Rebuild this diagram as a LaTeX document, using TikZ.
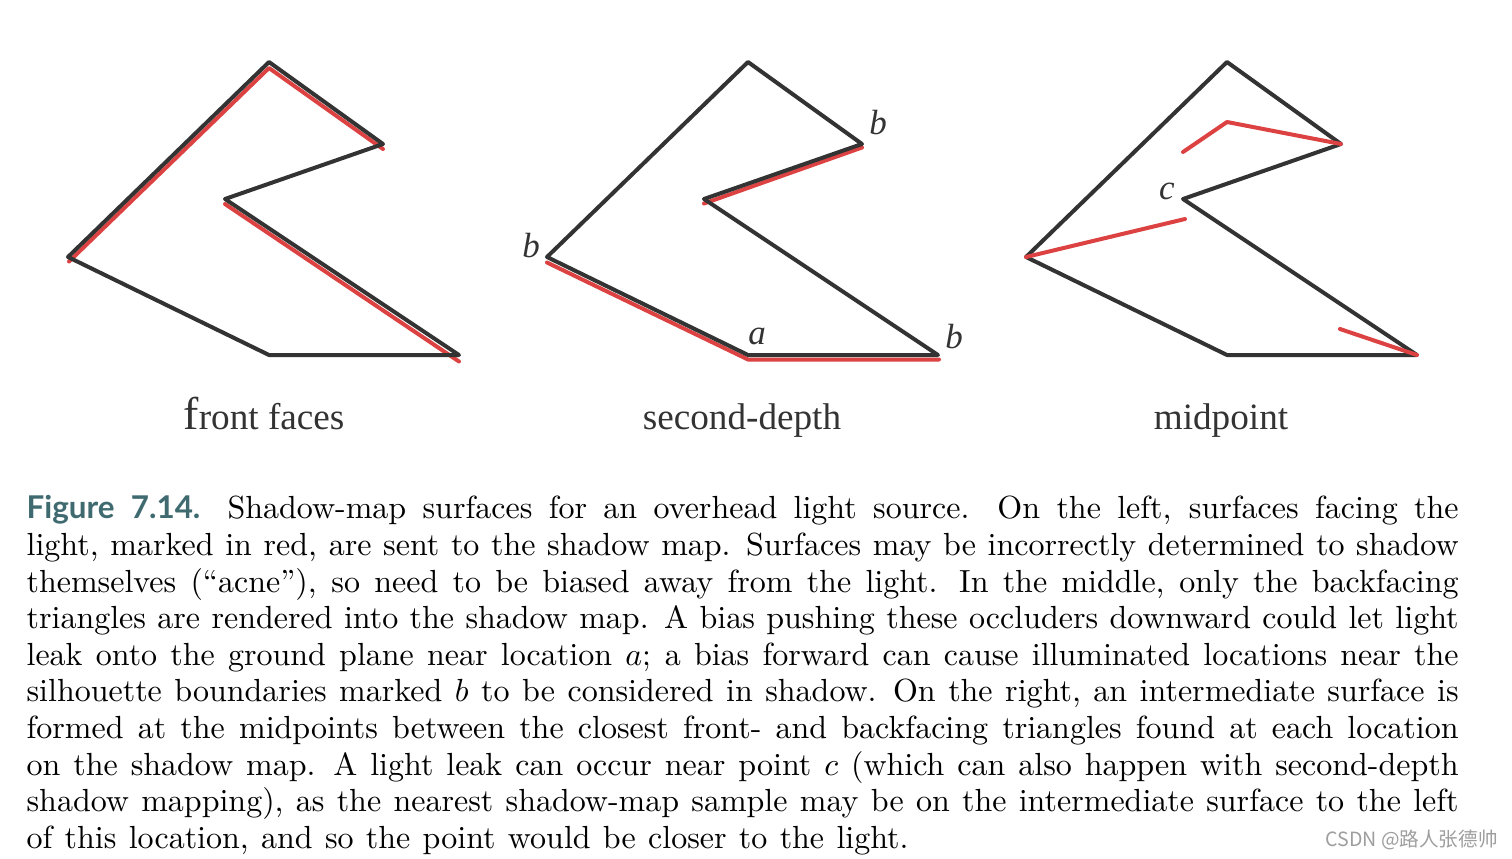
\documentclass[tikz,border=0pt]{standalone}
\usepackage{fontspec}
\newfontfamily\labelfont{Liberation Serif}
\newfontfamily\headfont{Lato}
\newfontfamily\cjkfont{Noto Sans CJK SC}
\definecolor{darkline}{HTML}{333333}
\definecolor{redline}{HTML}{DC4242}
\definecolor{teal}{HTML}{3F6A70}
\tikzset{
	outline/.style={draw=darkline, line width=2pt, line join=round},
	mark red/.style={draw=redline, line width=2pt, line cap=round, line join=round},
	caption label/.style={text=darkline, font=\labelfont\fontsize{18.6}{22}\selectfont, anchor=base},
	point label/.style={text=darkline, font=\labelfont\itshape\fontsize{17.5}{20}\selectfont, anchor=base}
}
\begin{document}
\begin{tikzpicture}[x=.5pt, y=-.5pt]
	\useasboundingbox (0,0) rectangle (1512,858);
	\fill[white] (0,0) rectangle (1512,858);
	% front faces
	\draw[mark red] (69,261.5)--(269,68)--(383,149);
	\draw[mark red] (225,204)--(459,361.5);
	% second-depth
	\draw[mark red] (547,262.5)--(748,359.5)--(939,359.5);
	\draw[mark red] (704,203.5)--(862,147.5);
	\foreach \sx in {0,479,958}{
		\draw[outline, shift={(\sx,0)}] (269,62)--(383,144)--(225,199)--(459,355)--(269,355)--(68,257)--cycle;
	}
	% midpoint
	\draw[mark red] (1026,257)--(1185,219);
	\draw[mark red] (1183,152)--(1227,122)--(1341,144);
	\draw[mark red] (1340,329)--(1417,355);
	\node[caption label] (front) at (264,429) {{\fontsize{23}{23}\selectfont f}ront faces};
	\node[caption label] (second) at (742,429) {second-depth};
	\node[caption label] (mid) at (1221,429) {midpoint};
	\node[point label] (bone) at (878,134) {b};
	\node[point label] (btwo) at (531,257) {b};
	\node[point label] (a) at (757,344) {a};
	\node[point label] (bthree) at (954,348) {b};
	\node[point label] (c) at (1167,199) {c};
	\node[anchor=north west, inner sep=0pt, scale=1.6, transform shape, text width=447.5pt, align=justify, font=\fontsize{10}{11.44}\selectfont] (text) at (26,495) {%
		\spaceskip=.385em plus .2em minus .2em
		{\headfont\bfseries\color{teal}\fontsize{9.8}{10}\selectfont Figure 7.14.}\hspace{.85em}Shadow-map surfaces for an overhead light source.  On the left, surfaces facing the\linebreak
		light, marked in red, are sent to the shadow map.  Surfaces may be incorrectly determined to shadow\linebreak
		themselves (``acne''), so need to be biased away from the light.  In the middle, only the backfacing\linebreak
		triangles are rendered into the shadow map.  A bias pushing these occluders downward could let light\linebreak
		leak onto the ground plane near location $a$; a bias forward can cause illuminated locations near the\linebreak
		silhouette boundaries marked $b$ to be considered in shadow.  On the right, an intermediate surface is\linebreak
		formed at the midpoints between the closest front- and backfacing triangles found at each location\linebreak
		on the shadow map.  A light leak can occur near point $c$ (which can also happen with second-depth\linebreak
		shadow mapping), as the nearest shadow-map sample may be on the intermediate surface to the left\linebreak
		of this location, and so the point would be closer to the light.};
	\node[anchor=base east, inner sep=0pt, text=black!38, font=\cjkfont\fontsize{9.8}{12}\selectfont] (mark) at (1498,846) {CSDN @路人张德帅};
\end{tikzpicture}
\end{document}
